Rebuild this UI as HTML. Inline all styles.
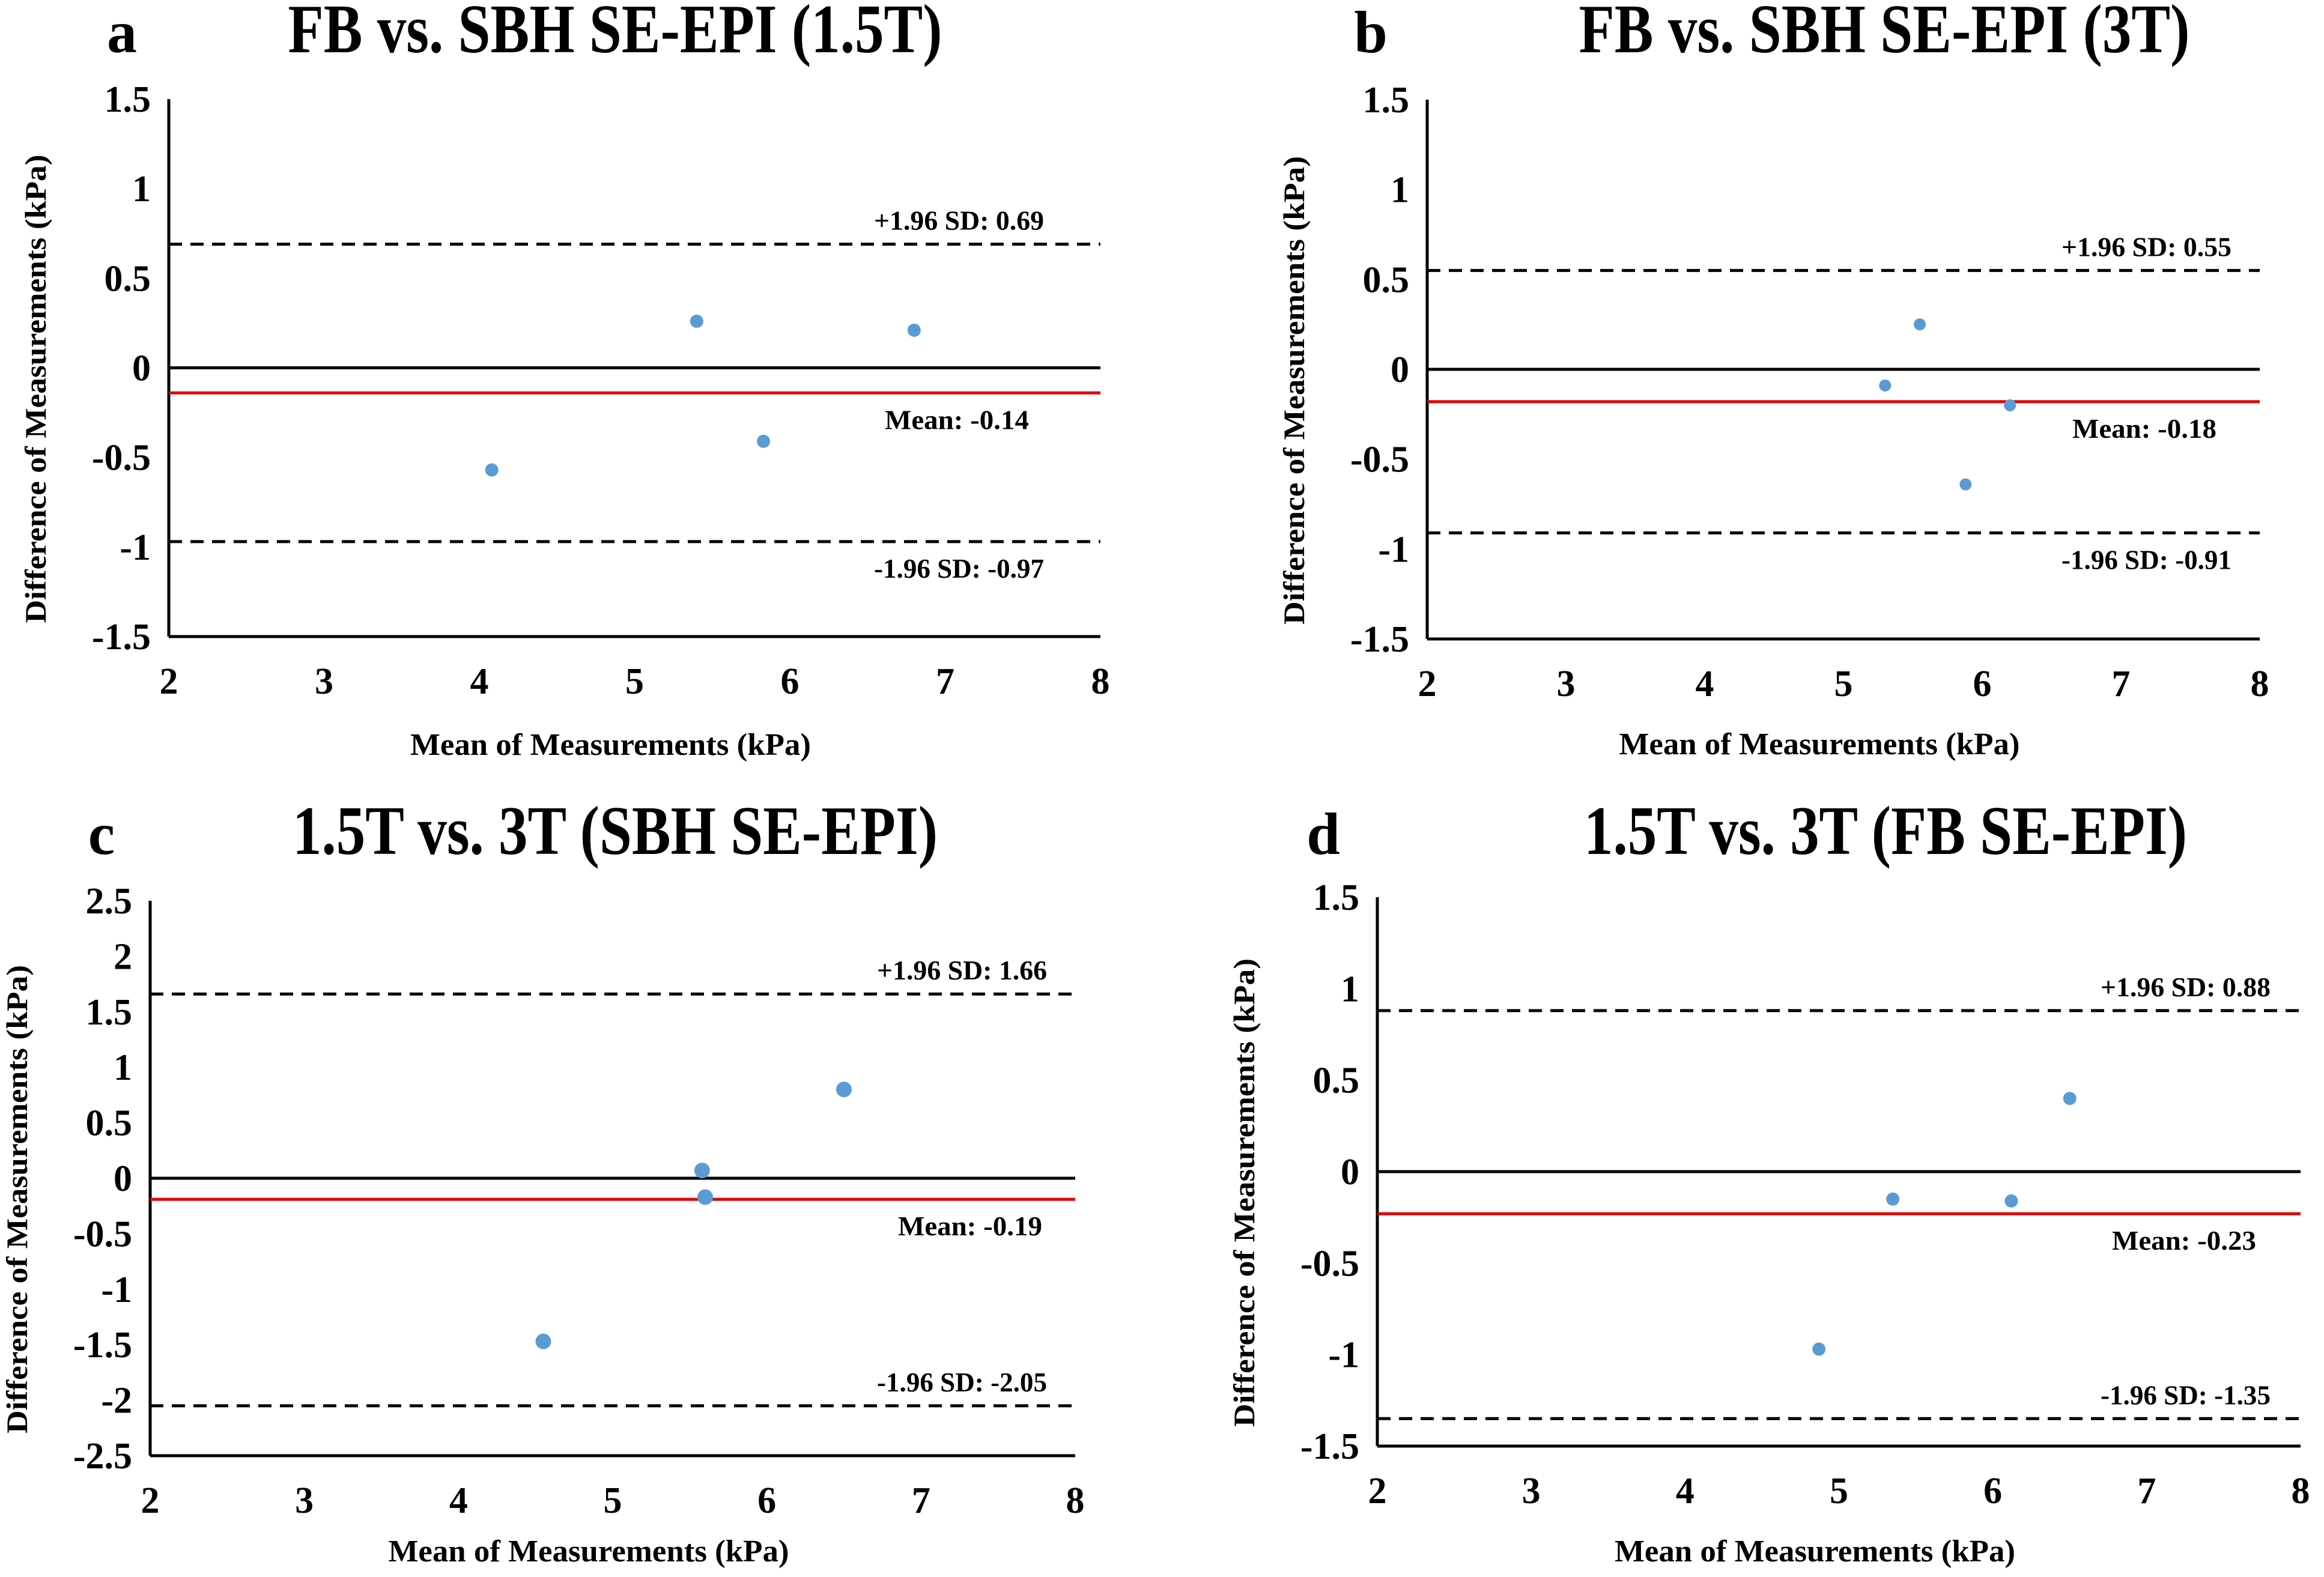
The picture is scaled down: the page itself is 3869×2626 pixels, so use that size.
<!DOCTYPE html>
<html><head><meta charset="utf-8"><style>
html,body{margin:0;padding:0;background:#fff;}
svg{display:block;}
text{font-family:"Liberation Serif",serif;font-weight:bold;fill:#000;}
</style></head><body>
<svg id="fig" width="3869" height="2626" viewBox="0 0 3869 2626" xmlns="http://www.w3.org/2000/svg"></svg>
<script>
// Data
const xTicks = [2,3,4,5,6,7,8];
const yTicksAB = [1.5,1,0.5,0,-0.5,-1,-1.5];
const yTicksC = [2.5,2,1.5,1,0.5,0,-0.5,-1,-1.5,-2,-2.5];
const aX = [4.08,5.40,5.83,6.80];
const aY = [-0.57,0.26,-0.41,0.21];
const aStats = [0.69,-0.14,-0.97];
const bX = [5.30,5.55,5.88,6.20];
const bY = [-0.09,0.25,-0.64,-0.20];
const bStats = [0.55,-0.18,-0.91];
const cX = [4.55,5.58,5.60,6.50];
const cY = [-1.47,0.07,-0.17,0.80];
const cStats = [1.66,-0.19,-2.05];
const dX = [4.87,5.35,6.12,6.50];
const dY = [-0.97,-0.15,-0.16,0.40];
const dStats = [0.88,-0.23,-1.35];
const titles = ["FB vs. SBH SE-EPI (1.5T)","FB vs. SBH SE-EPI (3T)","1.5T vs. 3T (SBH SE-EPI)","1.5T vs. 3T (FB SE-EPI)"];
const letters = ["a","b","c","d"];

const NS="http://www.w3.org/2000/svg";
const svg=document.getElementById('fig');
function mk(tag,attrs,parent){const e=document.createElementNS(NS,tag);for(const k in attrs)e.setAttribute(k,attrs[k]);(parent||svg).appendChild(e);return e;}
function fmt(v){return String(v);}

function panel(id,geo,xs,ys,stats,yt,title,letter,r){
  const g=mk('g',{});
  
  
  const yMax=yt[0], yMin=yt[yt.length-1];
  const X=v=>geo.x0+(v-2)/(8-2)*(geo.x1-geo.x0);
  const Y=v=>geo.y0+(yMax-v)/(yMax-yMin)*(geo.y1-geo.y0);
  const t=mk('text',{x:geo.tx,y:geo.tb,'font-size':116,'text-anchor':'middle',textLength:geo.tw,lengthAdjust:'spacingAndGlyphs'},g);t.textContent=title;
  
  
  const l=mk('text',{x:geo.lx,y:geo.tb,'font-size':100,'text-anchor':'middle'},g);l.textContent=letter;
  
  
  const ya=mk('line',{x1:geo.x0,y1:geo.y0,x2:geo.x0,y2:geo.y1,stroke:'#000','stroke-width':5},g);
  
  
  const xa=mk('line',{x1:geo.x0,y1:geo.y1,x2:geo.x1,y2:geo.y1,stroke:'#000','stroke-width':5},g);
  
  
  yt.forEach(v=>{const e=mk('text',{x:geo.x0-30,y:Y(v)+21,'font-size':62,'text-anchor':'end'},g);e.textContent=fmt(v);
    
    });
  xTicks.forEach(v=>{const e=mk('text',{x:X(v),y:geo.y1+95,'font-size':62,'text-anchor':'middle'},g);e.textContent=fmt(v);
    
    });
  const xt=mk('text',{x:(geo.x0+geo.x1)/2-40,y:geo.y1+geo.xtb,'font-size':52,'text-anchor':'middle',textLength:667,lengthAdjust:'spacingAndGlyphs'},g);xt.textContent='Mean of Measurements (kPa)';
  
  
  const ycx=geo.x0-205, ycy=(geo.y0+geo.y1)/2+35;
  const yl=mk('text',{x:ycx,y:ycy,'font-size':50,'text-anchor':'middle',transform:`rotate(-90 ${ycx} ${ycy})`,textLength:780,lengthAdjust:'spacingAndGlyphs'},g);yl.textContent='Difference of Measurements (kPa)';
  
  
  const z=mk('line',{x1:geo.x0,y1:Y(0),x2:geo.x1,y2:Y(0),stroke:'#000','stroke-width':5},g);
  
  
  const up=mk('line',{x1:geo.x0,y1:Y(stats[0]),x2:geo.x1,y2:Y(stats[0]),stroke:'#000','stroke-width':5,'stroke-dasharray':'22 14'},g);
  
  
  const lo=mk('line',{x1:geo.x0,y1:Y(stats[2]),x2:geo.x1,y2:Y(stats[2]),stroke:'#000','stroke-width':5,'stroke-dasharray':'22 14'},g);
  
  
  const mn=mk('line',{x1:geo.x0,y1:Y(stats[1]),x2:geo.x1,y2:Y(stats[1]),stroke:'#e00000','stroke-width':5},g);
  
  
  const rx=geo.x1-geo.lo;
  const ut=mk('text',{x:rx,y:Y(stats[0])-24,'font-size':46,'text-anchor':'end',textLength:283,lengthAdjust:'spacingAndGlyphs'},g);ut.textContent='+1.96 SD: '+stats[0].toFixed(2);
  
  
  const mt=mk('text',{x:geo.x1-geo.mo,y:Y(stats[1])+60,'font-size':46,'text-anchor':'end',textLength:240,lengthAdjust:'spacingAndGlyphs'},g);mt.textContent='Mean: '+stats[1].toFixed(2);
  
  
  const lt=mk('text',{x:rx,y:Y(stats[2])+(geo.lowAbove?-24:60),'font-size':46,'text-anchor':'end',textLength:283,lengthAdjust:'spacingAndGlyphs'},g);lt.textContent='-1.96 SD: '+stats[2].toFixed(2);
  
  
  xs.forEach((v,i)=>{const c=mk('circle',{cx:X(v),cy:Y(ys[i]),r:r,fill:'#5b9bd5'},g);
    
    });
}
panel('a',{x0:281,x1:1832,y0:165,y1:1060,tx:1024,tb:87,tw:1089,lx:203,xtb:197,lowAbove:false,lo:94,mo:119},aX,aY,aStats,yTicksAB,titles[0],letters[0],11);
panel('b',{x0:2376,x1:3762,y0:166,y1:1064,tx:3137,tb:87,tw:1017,lx:2282,xtb:192,lowAbove:false,lo:47,mo:72},bX,bY,bStats,yTicksAB,titles[1],letters[1],10);
panel('c',{x0:250,x1:1790,y0:1500,y1:2424,tx:1024,tb:1422,tw:1074,lx:169,xtb:176,lowAbove:true,lo:47,mo:55},cX,cY,cStats,yTicksC,titles[2],letters[2],13);
panel('d',{x0:2293,x1:3830,y0:1494,y1:2408,tx:3139,tb:1422,tw:1004,lx:2203,xtb:192,lowAbove:true,lo:50,mo:74},dX,dY,dStats,yTicksAB,titles[3],letters[3],11);
</script>
</body></html>
